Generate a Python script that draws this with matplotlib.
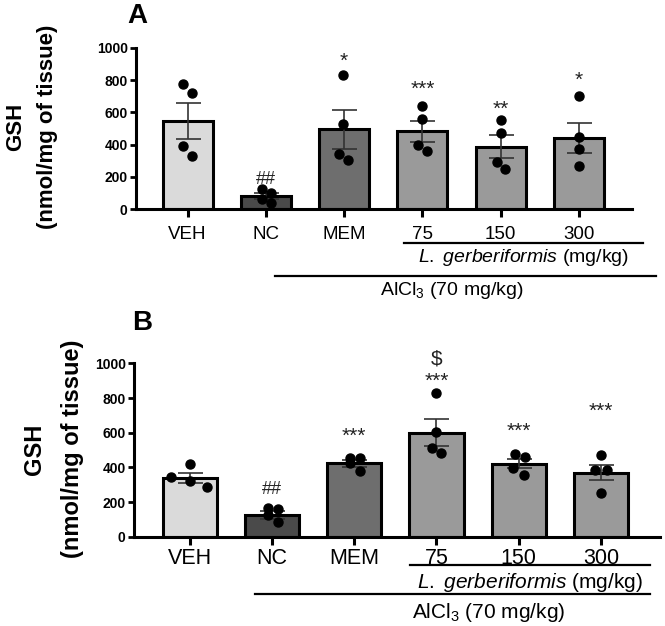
import numpy as np
import matplotlib

matplotlib.use("Agg")
import matplotlib.pyplot as plt
from matplotlib.transforms import blended_transform_factory

plt.rcParams["font.family"] = ["Liberation Sans", "DejaVu Sans"]
plt.rcParams["mathtext.fontset"] = "custom"
plt.rcParams["mathtext.rm"] = "Liberation Sans"
plt.rcParams["mathtext.it"] = "Liberation Sans:italic"

groups = ["VEH", "NC", "MEM", "75", "150", "300"]
bar_colors = ["#dadada", "#4a4a4a", "#6e6e6e", "#9a9a9a", "#9a9a9a", "#9a9a9a"]

# panel A (GSH, nmol/mg of tissue)
a_means = [548, 82, 495, 483, 388, 441]
a_sems = [110, 21, 120, 66, 73, 92]
a_points = [
    [773, 718, 394, 332],
    [124, 103, 64, 41],
    [831, 528, 342, 303],
    [641, 559, 398, 363],
    [553, 474, 291, 249],
    [699, 445, 375, 270],
]
a_marks = ["", "##", "*", "***", "**", "*"]
a_mark_y = [0, 187, 913, 742, 620, 800]

# panel B
b_means = [337, 125, 423, 600, 420, 369]
b_sems = [28, 22, 20, 78, 26, 44]
b_points = [
    [418, 346, 321, 285],
    [164, 162, 125, 87],
    [452, 452, 423, 381],
    [831, 606, 510, 485],
    [475, 462, 394, 356],
    [471, 385, 382, 250],
]
b_marks = ["", "##", "***", "***", "***", "***"]
b_mark_y = [0, 273, 577, 894, 610, 721]
b_dollar = ["", "", "", "$", "", ""]
b_dollar_y = [0, 0, 0, 1023, 0, 0]

yticks = [0, 200, 400, 600, 800, 1000]

# horizontal jitter of the dots (fraction of bar spacing)
a_jitter = [
    [-0.06, 0.06, -0.06, 0.06],
    [-0.05, 0.06, -0.05, 0.06],
    [-0.02, -0.01, -0.06, 0.05],
    [0.0, 0.0, -0.05, 0.06],
    [0.0, 0.0, -0.05, 0.06],
    [0.0, 0.0, 0.0, 0.0],
]
b_jitter = [
    [0.0, -0.23, 0.0, 0.21],
    [-0.05, 0.07, -0.05, 0.07],
    [-0.05, 0.07, -0.05, 0.07],
    [0.0, 0.0, -0.06, 0.06],
    [-0.05, 0.08, -0.07, 0.06],
    [0.0, -0.07, 0.07, 0.0],
]


def draw_panel(ax, means, sems, points, jitter, marks, mark_y, cfg):
    x = np.arange(len(groups))
    ax.bar(x, means, width=cfg["bw"], color=bar_colors, edgecolor="black",
           linewidth=2.2, zorder=2)
    ax.errorbar(x, means, yerr=sems, fmt="none", ecolor="#333333",
                elinewidth=1.2, capsize=cfg["cap"], capthick=1.2, zorder=3)
    for i, (pts, jit) in enumerate(zip(points, jitter)):
        ax.plot(x[i] + np.array(jit), pts, "o", color="black", ms=6.5,
                zorder=4, clip_on=False)
    for i, (m, yv) in enumerate(zip(marks, mark_y)):
        if m:
            fs = cfg["mfs"] if "*" in m else cfg["mfs"] - 2
            ax.text(x[i], yv, m, ha="center", va="center", fontsize=fs,
                    color="#222222", zorder=5)

    ax.set_xlim(*cfg["xlim"])
    ax.set_ylim(0, 1000)
    ax.set_yticks(yticks)
    ax.set_xticks(x)
    ax.set_xticklabels(groups, fontsize=cfg["xfs"])
    for lab in ax.get_yticklabels():
        lab.set_fontweight("bold")
        lab.set_fontsize(10)
    ax.tick_params(axis="x", length=6, width=2.2, pad=cfg["xpad"])
    ax.tick_params(axis="y", length=4, width=2, pad=2)
    for s in ["top", "right"]:
        ax.spines[s].set_visible(False)
    for s in ["left", "bottom"]:
        ax.spines[s].set_linewidth(2.2)

    tr = blended_transform_factory(ax.transData, ax.transAxes)
    ax.plot(cfg["l1"], [cfg["l1y"]] * 2, color="black", lw=1.6,
            transform=tr, clip_on=False)
    ax.text(np.mean(cfg["l1"]), cfg["t1y"],
            "$\\mathit{L.\\ gerberiformis}$ (mg/kg)", transform=tr,
            ha="center", va="center", fontsize=cfg["tfs"])
    ax.plot(cfg["l2"], [cfg["l2y"]] * 2, color="black", lw=1.6,
            transform=tr, clip_on=False)
    ax.text(cfg["t2x"], cfg["t2y"], "AlCl$_3$ (70 mg/kg)", transform=tr,
            ha="center", va="center", fontsize=cfg["tfs"])


fig = plt.figure(figsize=(6.65, 6.26), dpi=100)

ax_a = fig.add_axes([136 / 665, 1 - 209.3 / 626, 496 / 665, 161.6 / 626])
draw_panel(ax_a, a_means, a_sems, a_points, a_jitter, a_marks, a_mark_y, dict(
    bw=0.64, cap=9, mfs=15, xfs=13.5, xpad=6, xlim=(-0.66, 5.68),
    l1=(2.76, 5.82), l1y=-0.209, t1y=-0.30,
    l2=(1.12, 5.99), l2y=-0.413, t2x=3.37, t2y=-0.50, tfs=14))

ax_b = fig.add_axes([134 / 665, 1 - 536.7 / 626, 526 / 665, 173.3 / 626])
draw_panel(ax_b, b_means, b_sems, b_points, b_jitter, b_marks, b_mark_y, dict(
    bw=0.66, cap=9, mfs=15, xfs=15.5, xpad=2, xlim=(-0.68, 5.72),
    l1=(2.68, 5.6), l1y=-0.163, t1y=-0.267,
    l2=(0.79, 5.6), l2y=-0.331, t2x=3.64, t2y=-0.435, tfs=15))
for i, (m, yv) in enumerate(zip(b_dollar, b_dollar_y)):
    if m:
        ax_b.text(i, yv, m, ha="center", va="center", fontsize=15,
                  color="#222222")

# two-line y labels
fig.text(16 / 665, 1 - 127 / 626, "GSH", rotation=90, fontsize=16,
         fontweight="bold", ha="center", va="center")
fig.text(48 / 665, 1 - 127 / 626, "(nmol/mg of tissue)", rotation=90,
         fontsize=16, fontweight="bold", ha="center", va="center")
fig.text(35 / 665, 1 - 449 / 626, "GSH", rotation=90, fontsize=17,
         fontweight="bold", ha="center", va="center")
fig.text(72 / 665, 1 - 449 / 626, "(nmol/mg of tissue)", rotation=90,
         fontsize=17, fontweight="bold", ha="center", va="center")

fig.text(137 / 665, 1 - 16 / 626, "A", fontsize=20, fontweight="bold",
         ha="center", va="center")
fig.text(142 / 665, 1 - 323 / 626, "B", fontsize=20, fontweight="bold",
         ha="center", va="center")

fig.savefig("out.png", dpi=100)
